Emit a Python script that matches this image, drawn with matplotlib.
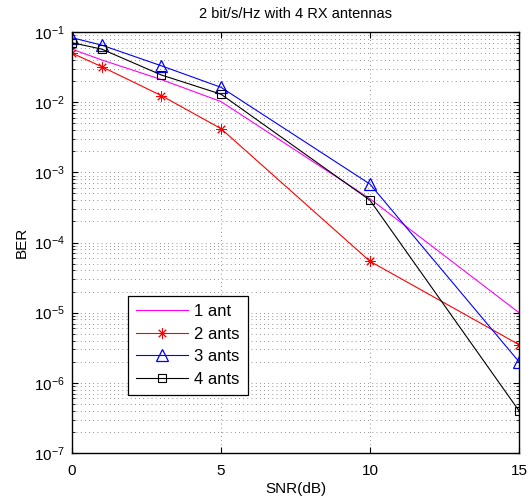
import numpy as np
import matplotlib
matplotlib.use('Agg')
import matplotlib.pyplot as plt

plt.rcParams['font.family'] = ['Liberation Sans', 'DejaVu Sans']

snr = [0, 1, 3, 5, 10, 15]
# BER
ber_1ant = [0.057, 0.040, 0.021, 0.0102, 4.2e-4, 1.0e-5]
ber_2ants = [0.050, 0.032, 0.0124, 0.0042, 5.4e-5, 3.5e-6]
ber_3ants = [0.083, 0.065, 0.033, 0.0163, 6.8e-4, 2.0e-6]
ber_4ants = [0.0705, 0.057, 0.0244, 0.0130, 4.0e-4, 4.0e-7]
labels = ['1 ant', '2 ants', '3 ants', '4 ants']

fig = plt.figure(figsize=(5.3, 4.98), dpi=100)
ax = fig.add_axes([0.1358, 0.0904, 0.8434, 0.8453])

ax.semilogy(snr, ber_1ant, color='magenta', lw=0.8, label=labels[0])
ax.semilogy(snr, ber_2ants, color='red', lw=0.8, marker=(8, 2, 0), ms=7.5,
            markeredgewidth=0.7, label=labels[1])
ax.semilogy(snr, ber_3ants, color='blue', lw=0.8, marker='^', ms=9,
            mfc='none', markeredgewidth=0.9, label=labels[2])
ax.semilogy(snr, ber_4ants, color='black', lw=0.8, marker='s', ms=6,
            mfc='none', markeredgewidth=0.8, label=labels[3])

ax.set_xlim(0, 15)
ax.set_ylim(1e-7, 1e-1)
ax.set_xticks([0, 5, 10, 15])
grid_kw = dict(ls=(0, (1, 5)), color='#333333', lw=0.5)
ax.grid(True, which='major', **grid_kw)
ax.grid(True, which='minor', axis='y', **grid_kw)
ax.tick_params(which='both', direction='in', top=True, right=True, labelsize=11)
ax.tick_params(which='major', length=4)
ax.tick_params(axis='x', which='major', pad=8)
ax.tick_params(axis='y', which='major', pad=5)
ax.tick_params(which='minor', length=2)
for s in ax.spines.values():
    s.set_linewidth(1.0)

ax.set_xlabel('SNR(dB)', fontsize=11, labelpad=3)
ax.set_ylabel('BER', fontsize=11, labelpad=4)
ax.set_title('2 bit/s/Hz with 4 RX antennas', fontsize=10.5, pad=10)

leg = ax.legend(loc='lower left', bbox_to_anchor=(0.125, 0.138), fontsize=12,
                fancybox=False, edgecolor='black', framealpha=1,
                handlelength=3.1, borderpad=0.5, labelspacing=0.45,
                handletextpad=0.35, borderaxespad=0)
leg.get_frame().set_linewidth(0.9)

fig.savefig('out.png', dpi=100)
